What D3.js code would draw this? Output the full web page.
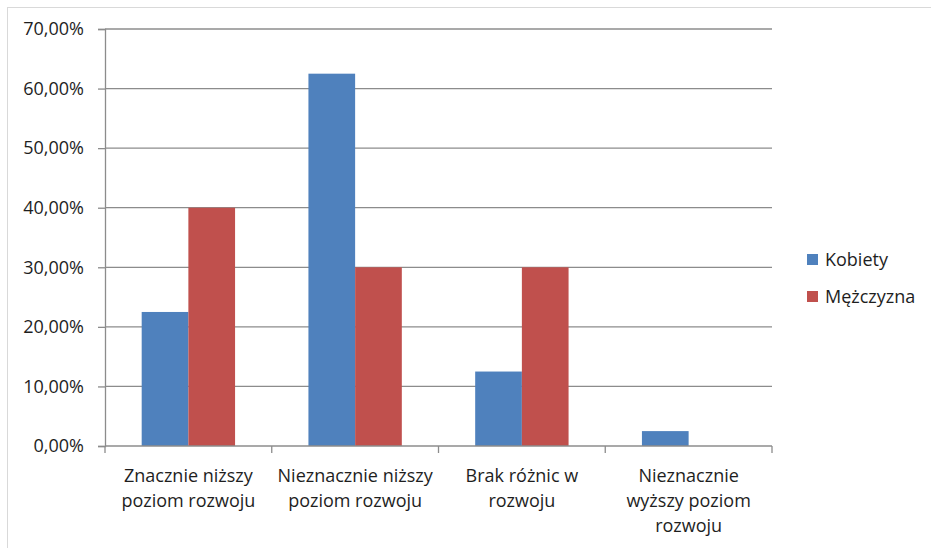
<!DOCTYPE html>
<html>
<head>
<meta charset="utf-8">
<script src="https://cdn.jsdelivr.net/npm/d3@7"></script>
<style>
  body { margin: 0; background: #fff; }
  svg text { font-family: "Open Sans", sans-serif; fill: #1e1e1e; }
</style>
</head>
<body>
<div id="chart"></div>
<script>
// categories, split into lines the way they wrap under the axis
const categories = [
  ["Znacznie niższy", "poziom rozwoju"],
  ["Nieznacznie niższy", "poziom rozwoju"],
  ["Brak różnic w", "rozwoju"],
  ["Nieznacznie", "wyższy poziom", "rozwoju"]
];
const seriesNames = ["Kobiety", "Mężczyzna"];
const kobiety = [0.225, 0.625, 0.125, 0.025];
const mezczyzna = [0.40, 0.30, 0.30, 0];
const yTicks = [0, 0.1, 0.2, 0.3, 0.4, 0.5, 0.6, 0.7];
const colors = ["#4f81bd", "#c0504d"];

const width = 931, height = 548;
const margin = { top: 29, left: 105, right: 159, bottom: 102 };

const rows = categories.map(function (c, i) {
  return { cat: i, values: [kobiety[i], mezczyzna[i]] };
});

const svg = d3.select("#chart").append("svg")
  .attr("width", width)
  .attr("height", height);

// outer frame
svg.append("rect")
  .attr("x", 7.5).attr("y", 7.5)
  .attr("width", width).attr("height", height)
  .attr("fill", "none")
  .attr("stroke", "#d9d9d9");

const x0 = d3.scaleBand()
  .domain(d3.range(categories.length))
  .range([margin.left, width - margin.right]);

const step = x0.bandwidth();
const x1 = d3.scaleBand()
  .domain(d3.range(seriesNames.length))
  .range([step * 0.22, step * 0.78]);

const y = d3.scaleLinear()
  .domain([0, 0.7])
  .range([height - margin.bottom, margin.top]);

// gridlines + y axis
const fmt = function (v) {
  return d3.format(".2f")(v * 100).replace(".", ",") + "%";
};
const yAxis = svg.append("g")
  .attr("transform", "translate(" + margin.left + ",0)")
  .call(d3.axisLeft(y)
    .tickValues(yTicks)
    .tickSize(7)
    .tickPadding(14)
    .tickFormat(fmt));
yAxis.select(".domain").attr("stroke", "#8c8c8c").attr("stroke-width", 1.3);
yAxis.selectAll(".tick line").attr("stroke", "#8c8c8c").attr("stroke-width", 1.3);
yAxis.selectAll(".tick text")
  .attr("font-size", "18px")
  .attr("font-family", "Open Sans")
  .attr("fill", "#1e1e1e");

svg.append("g")
  .selectAll("line")
  .data(yTicks.filter(function (d) { return d > 0; }))
  .enter()
  .append("line")
  .attr("x1", margin.left)
  .attr("x2", width - margin.right)
  .attr("y1", function (d) { return y(d); })
  .attr("y2", function (d) { return y(d); })
  .attr("stroke", "#8c8c8c")
  .attr("stroke-width", 1.3);

// bars
const groups = svg.append("g")
  .selectAll("g")
  .data(rows)
  .enter()
  .append("g")
  .attr("transform", function (d) { return "translate(" + x0(d.cat) + ",0)"; });

groups.selectAll("rect")
  .data(function (d) { return d.values.map(function (v, i) { return { s: i, v: v }; }); })
  .enter()
  .append("rect")
  .attr("x", function (d) { return x1(d.s); })
  .attr("width", x1.bandwidth())
  .attr("y", function (d) { return y(d.v); })
  .attr("height", function (d) { return y(0) - y(d.v); })
  .attr("fill", function (d) { return colors[d.s]; });

// x axis
const xAxis = svg.append("g")
  .attr("transform", "translate(0," + y(0) + ")");
xAxis.append("line")
  .attr("x1", margin.left).attr("x2", width - margin.right)
  .attr("stroke", "#8c8c8c").attr("stroke-width", 1.3);
xAxis.selectAll("line.tick")
  .data(d3.range(categories.length + 1))
  .enter()
  .append("line")
  .attr("class", "tick")
  .attr("x1", function (d) { return margin.left + d * step; })
  .attr("x2", function (d) { return margin.left + d * step; })
  .attr("y1", 0).attr("y2", 7)
  .attr("stroke", "#8c8c8c").attr("stroke-width", 1.3);

const labels = xAxis.selectAll("text.cat")
  .data(categories)
  .enter()
  .append("text")
  .attr("class", "cat")
  .attr("text-anchor", "middle")
  .attr("font-size", "18px")
  .attr("x", function (d, i) { return x0(i) + step / 2; });
labels.selectAll("tspan")
  .data(function (d) { return d; })
  .enter()
  .append("tspan")
  .attr("x", function () { return d3.select(this.parentNode).attr("x"); })
  .attr("y", function (d, i) { return 36 + i * 25; })
  .text(function (d) { return d; });

// legend
const legend = svg.append("g")
  .attr("transform", "translate(807,254)");
const items = legend.selectAll("g")
  .data(seriesNames)
  .enter()
  .append("g")
  .attr("transform", function (d, i) { return "translate(0," + i * 37 + ")"; });
items.append("rect")
  .attr("width", 11).attr("height", 11)
  .attr("fill", function (d, i) { return colors[i]; });
items.append("text")
  .attr("x", 18)
  .attr("y", 12)
  .attr("font-size", "18px")
  .text(function (d) { return d; });
</script>
</body>
</html>
